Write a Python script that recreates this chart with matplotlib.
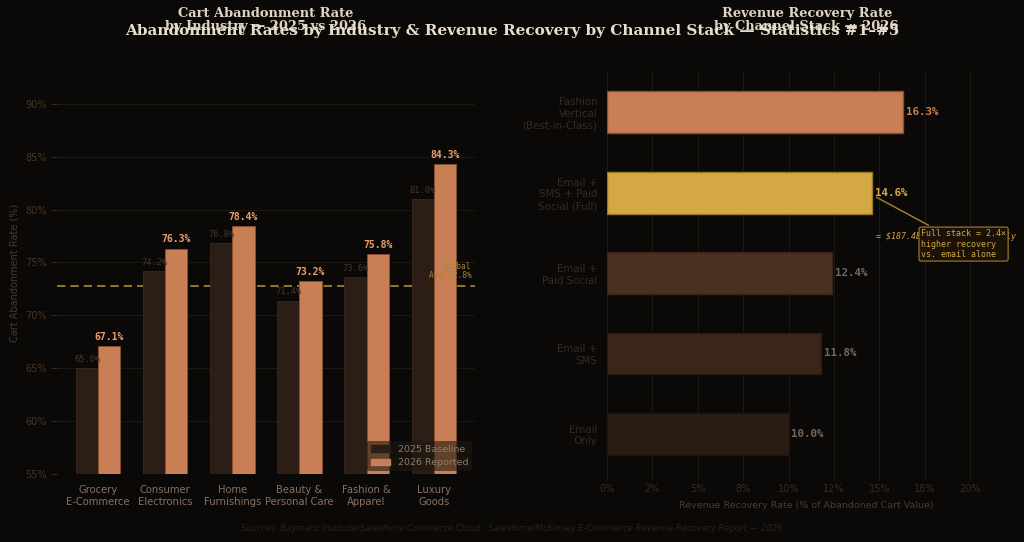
#!/usr/bin/env python3
"""Cart abandonment by industry and revenue recovery by channel stack."""

import matplotlib
matplotlib.use("Agg")
import matplotlib.pyplot as plt
import matplotlib.ticker as ticker
import numpy as np
from matplotlib.patches import Patch


industries = [
    "Grocery\nE-Commerce",
    "Consumer\nElectronics",
    "Home\nFurnishings",
    "Beauty &\nPersonal Care",
    "Fashion &\nApparel",
    "Luxury\nGoods",
]
rate_2025 = [65.0, 74.2, 76.8, 71.4, 73.6, 81.0]
rate_2026 = [67.1, 76.3, 78.4, 73.2, 75.8, 84.3]
global_avg = 72.8

# bottom to top
channels = [
    "Email\nOnly",
    "Email +\nSMS",
    "Email +\nPaid Social",
    "Email +\nSMS + Paid\nSocial (Full)",
    "Fashion\nVertical\n(Best-in-Class)",
]
recovery = [10.0, 11.8, 12.4, 14.6, 16.3]

BG = "#0a0907"
BASE = "#2c1d16"
COPPER = "#c87f55"
GOLD = "#d4a843"
CHANNEL_COLORS = ["#2a1b14", "#3a2519", "#4a3020", GOLD, COPPER]
CHANNEL_EDGES = ["#1e140e", "#2a1a12", "#3a2418", "#9a7a2a", "#8a5030"]
LABEL_COLORS = ["#7a6658", "#7a6658", "#7a6658", GOLD, COPPER]
GRID = "#1c1812"

fig = plt.figure(figsize=(10.24, 5.42), dpi=100, facecolor=BG)
ax1 = fig.add_axes([0.0557, 0.1255, 0.408, 0.7415], facecolor=BG)
ax2 = fig.add_axes([0.5928, 0.1255, 0.390, 0.7415], facecolor=BG)

# --- left: abandonment by industry ---
x = np.arange(len(industries))
w = 0.33
ax1.bar(x - w / 2, np.array(rate_2025) - 55, w, bottom=55, color=BASE,
        edgecolor="#3a2820", linewidth=0.6, label="2025 Baseline", zorder=3)
ax1.bar(x + w / 2, np.array(rate_2026) - 55, w, bottom=55, color=COPPER,
        edgecolor="#8a5030", linewidth=0.6, label="2026 Reported", zorder=3)
for xi, v in zip(x, rate_2025):
    ax1.text(xi - w / 2, v + 0.4, f"{v:.1f}%", ha="center", va="bottom",
             fontsize=6.3, family="DejaVu Sans Mono", color="#4a3428", zorder=4)
for xi, v in zip(x, rate_2026):
    ax1.text(xi + w / 2, v + 0.4, f"{v:.1f}%", ha="center", va="bottom",
             fontsize=7, family="DejaVu Sans Mono", fontweight="bold",
             color="#e8a070", zorder=4)

ax1.axhline(global_avg, color="#c8a040", linestyle="--", linewidth=1.2,
            alpha=0.85, zorder=2, dashes=(5, 3))
ax1.text(5.56, global_avg + 0.5, f"Global\nAvg {global_avg}%", ha="right",
         va="bottom", fontsize=5.7, family="DejaVu Sans Mono", color="#a8842f",
         zorder=4, linespacing=1.1)

ax1.set_ylim(55, 93)
ax1.set_yticks(np.arange(55, 91, 5))
ax1.yaxis.set_major_formatter(ticker.FuncFormatter(lambda v, p: f"{v:.0f}%"))
ax1.set_xticks(x)
ax1.set_xticklabels(industries, fontsize=7.2, color="#8a7060")
ax1.tick_params(axis="y", labelsize=7, labelcolor="#4a3520", color="#3a2a1e", length=4)
ax1.tick_params(axis="x", length=0, pad=8)
ax1.set_ylabel("Cart Abandonment Rate (%)", fontsize=7, color="#4a3a2e")
ax1.grid(axis="y", color=GRID, linewidth=0.8, zorder=0)
ax1.set_axisbelow(True)
for s in ax1.spines.values():
    s.set_visible(False)
ax1.set_title("Cart Abandonment Rate\nby Industry — 2025 vs 2026", family="DejaVu Serif",
              fontweight="bold", fontsize=9.4, color="#e0d4c0", pad=30, linespacing=1.05)
leg = ax1.legend(handles=[Patch(color=BASE, label="2025 Baseline"),
                          Patch(color=COPPER, label="2026 Reported")],
                 loc="lower right", fontsize=6.8, frameon=True, facecolor="#1e1812",
                 edgecolor="none", framealpha=0.6, handlelength=2.0,
                 borderaxespad=0.3)
for t in leg.get_texts():
    t.set_color("#8a7a6a")

# --- right: recovery by channel stack ---
y = np.arange(len(channels))
ax2.barh(y, recovery, height=0.52, color=CHANNEL_COLORS, edgecolor=CHANNEL_EDGES,
         linewidth=1.0, zorder=3)
for yi, v, c in zip(y, recovery, LABEL_COLORS):
    ax2.text(v + 0.15, yi, f"{v:.1f}%", ha="left", va="center", fontsize=7.8,
             family="DejaVu Sans Mono", fontweight="bold", color=c, zorder=4)

ax2.text(14.8, 2.45, "= $187.4B recovered globally", ha="left", va="center",
         fontsize=6, family="DejaVu Sans Mono", style="italic", color="#c8a040",
         zorder=4, clip_on=False)
ax2.annotate("Full stack = 2.4×\nhigher recovery\nvs. email alone",
             xy=(14.7, 2.96), xytext=(17.3, 2.36), ha="left", va="center",
             fontsize=6, family="DejaVu Sans Mono", color="#d4a843", zorder=6,
             bbox=dict(boxstyle="round,pad=0.25", facecolor="#1a1208",
                       edgecolor="#8a6a25", linewidth=1.0),
             arrowprops=dict(arrowstyle="-", color="#a8842f", linewidth=1.0))

ax2.set_xlim(0, 22)
ax2.set_ylim(-0.5, 4.5)
ax2.set_xticks(np.arange(0, 20.1, 2.5))
ax2.xaxis.set_major_formatter(ticker.FuncFormatter(lambda v, p: f"{v:.0f}%"))
ax2.set_yticks(y)
ax2.set_yticklabels(channels, fontsize=7.4, color="#3a2a1e")
ax2.tick_params(axis="y", length=0, pad=7)
ax2.tick_params(axis="x", labelsize=7, labelcolor="#3a2a1e", color="#1e1812", length=4)
ax2.set_xlabel("Revenue Recovery Rate (% of Abandoned Cart Value)", fontsize=6.8,
               color="#4a3a2e", labelpad=5)
ax2.grid(axis="x", color=GRID, linewidth=0.8, zorder=0)
ax2.set_axisbelow(True)
for s in ax2.spines.values():
    s.set_visible(False)
ax2.set_title("Revenue Recovery Rate\nby Channel Stack — 2026", family="DejaVu Serif",
              fontweight="bold", fontsize=9.4, color="#e0d4c0", pad=30, linespacing=1.05)

fig.suptitle("Abandonment Rates by Industry & Revenue Recovery by Channel Stack — Statistics #1–#5",
             x=0.5, y=0.955, family="DejaVu Serif", fontweight="bold", fontsize=11,
             color="#e8dccb")
fig.text(0.5, 0.024, "Sources: Baymard Institute/Salesforce Commerce Cloud · "
         "Salesforce/McKinsey E-Commerce Revenue Recovery Report — 2026",
         ha="center", va="center", fontsize=6.1, style="italic", color="#2e2016")

fig.savefig("out.png", dpi=100, facecolor=BG)
